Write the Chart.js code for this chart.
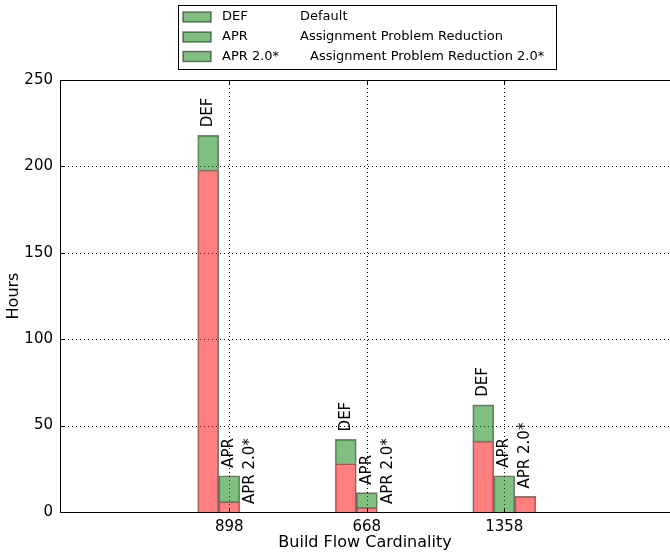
<!DOCTYPE html>
<html><head><meta charset="utf-8">
<script src="https://cdn.jsdelivr.net/npm/chart.js@4/dist/chart.umd.min.js"></script>
<style>html,body{margin:0;padding:0;background:#fff}#wrap{width:670px;height:552px}</style>
</head><body><div id="wrap"><canvas id="c" width="670" height="552"></canvas></div>
<script>
const categories = ['898', '668', '1358'];
const seriesNames = ['DEF', 'APR', 'APR 2.0*'];
const seriesDescriptions = ['Default', 'Assignment Problem Reduction', 'Assignment Problem Reduction 2.0*'];
const defRed = [198, 28, 41];
const defGreen = [20, 14, 21];
const aprRed = [6, 2.7, 0];
const aprGreen = [15, 8.5, 21];
const apr2Red = [0, 0, 9];
const apr2Green = [0, 0, 0];
const yTicks = [0, 50, 100, 150, 200, 250];

const BAR_W = 0.153;
const FONT = '"DejaVu Sans", sans-serif';
const RED = 'rgba(255,0,0,0.5)';
const GREEN = 'rgba(0,128,0,0.5)';
const EDGE = 'rgba(0,0,0,0.5)';
const groups = [[defRed, defGreen], [aprRed, aprGreen], [apr2Red, apr2Green]];

const datasets = [];
groups.forEach(([red, green], j) => {
  const pts = arr => arr.map((v, i) => ({x: i + (j - 1) * BAR_W, y: v === 0 ? null : v}));
  const common = {stack: seriesNames[j], borderColor: EDGE, borderWidth: {top: 1, left: 1, right: 1, bottom: 0},
    borderSkipped: false, grouped: false, barPercentage: 1, categoryPercentage: 1};
  datasets.push(Object.assign({label: seriesNames[j] + ' (part 1)', data: pts(red), backgroundColor: RED}, common));
  datasets.push(Object.assign({label: seriesNames[j] + ' (part 2)', data: pts(green), backgroundColor: GREEN}, common));
});

const framePlugin = {
  id: 'frame',
  beforeDatasetsDraw(chart) {
    const {ctx, chartArea: a, scales: {x, y}} = chart;
    ctx.save();
    ctx.strokeStyle = '#000';
    ctx.lineWidth = 1;
    ctx.setLineDash([1, 3]);
    yTicks.forEach(v => {
      if (v === 0 || v === 250) return;
      const py = Math.round(y.getPixelForValue(v)) + 0.5;
      ctx.beginPath(); ctx.moveTo(a.left, py); ctx.lineTo(a.right, py); ctx.stroke();
    });
    categories.forEach((c, i) => {
      const px = Math.round(x.getPixelForValue(i)) + 0.5;
      ctx.beginPath(); ctx.moveTo(px, a.top); ctx.lineTo(px, a.bottom); ctx.stroke();
    });
    ctx.restore();
  },
  afterDatasetsDraw(chart) {
    const {ctx, chartArea: a, scales: {x, y}} = chart;
    ctx.save();
    ctx.fillStyle = '#000';
    ctx.font = '15px ' + FONT;
    ctx.textAlign = 'left';
    ctx.textBaseline = 'middle';
    groups.forEach(([red, green], j) => {
      red.forEach((r, i) => {
        const total = r + green[i];
        const px = x.getPixelForValue(i + (j - 1) * BAR_W);
        const py = y.getPixelForValue(total) - 8;
        ctx.save();
        ctx.translate(px, py);
        ctx.rotate(-Math.PI / 2);
        ctx.fillText(seriesNames[j], 0, 0);
        ctx.restore();
      });
    });
    ctx.strokeStyle = '#000';
    ctx.lineWidth = 1;
    ctx.setLineDash([]);
    const L = a.left + 0.5, T = a.top + 0.5, B = a.bottom + 0.5;
    ctx.beginPath();
    ctx.moveTo(a.right, T); ctx.lineTo(L, T); ctx.lineTo(L, B); ctx.lineTo(a.right, B);
    ctx.stroke();
    ctx.beginPath();
    yTicks.forEach(v => {
      const py = Math.round(y.getPixelForValue(v)) + 0.5;
      ctx.moveTo(L, py); ctx.lineTo(L + 4, py);
    });
    categories.forEach((c, i) => {
      const px = Math.round(x.getPixelForValue(i)) + 0.5;
      ctx.moveTo(px, B); ctx.lineTo(px, B - 4);
      ctx.moveTo(px, T); ctx.lineTo(px, T + 4);
    });
    ctx.stroke();
    ctx.restore();
  },
  afterDraw(chart) {
    const {ctx} = chart;
    ctx.save();
    ctx.fillStyle = '#fff';
    ctx.fillRect(178.5, 5.5, 378, 64);
    ctx.strokeStyle = '#000';
    ctx.lineWidth = 1;
    ctx.strokeRect(178.5, 5.5, 378, 64);
    ctx.font = '13px ' + FONT;
    ctx.textBaseline = 'middle';
    ctx.textAlign = 'left';
    const rows = [17, 37, 56.5];
    const descX = [300, 300, 310];
    seriesNames.forEach((n, k) => {
      const cy = rows[k];
      ctx.fillStyle = '#fff';
      ctx.fillRect(183, cy - 5, 28, 10);
      ctx.fillStyle = GREEN;
      ctx.fillRect(183, cy - 5, 28, 10);
      ctx.strokeStyle = EDGE;
      ctx.lineWidth = 1.5;
      ctx.strokeRect(183, cy - 5, 28, 10);
      ctx.fillStyle = '#000';
      ctx.fillText(n, 222, cy);
      ctx.fillText(seriesDescriptions[k], descX[k], cy);
    });
    ctx.restore();
  }
};

new Chart(document.getElementById('c'), {
  type: 'bar',
  data: {datasets},
  plugins: [framePlugin],
  options: {
    responsive: false,
    animation: false,
    devicePixelRatio: 1,
    layout: {padding: {top: 80, left: 0, right: 0, bottom: 0}},
    plugins: {legend: {display: false}, tooltip: {enabled: false}},
    scales: {
      x: {
        type: 'linear',
        min: -1.231,
        max: 3.205,
        offset: false,
        stacked: false,
        afterBuildTicks: s => { s.ticks = categories.map((c, i) => ({value: i})); },
        afterFit: s => { s.height = 40; },
        grid: {display: false, drawTicks: false, offset: false},
        border: {display: false},
        ticks: {autoSkip: false, maxRotation: 0, color: '#000', padding: 6,
          font: {family: FONT, size: 15},
          callback: v => categories[Math.round(v)]},
        title: {display: true, text: 'Build Flow Cardinality', color: '#000',
          font: {family: FONT, size: 16}, padding: {top: 0, bottom: 0}}
      },
      y: {
        min: 0,
        max: 250,
        stacked: true,
        afterBuildTicks: s => { s.ticks = yTicks.map(v => ({value: v})); },
        afterFit: s => { s.width = 60; },
        grid: {display: false, drawTicks: false},
        border: {display: false},
        ticks: {color: '#000', padding: 7, font: {family: FONT, size: 15}},
        title: {display: true, text: 'Hours', color: '#000',
          font: {family: FONT, size: 16}, padding: {top: 4, bottom: 0}}
      }
    }
  }
});
</script></body></html>
